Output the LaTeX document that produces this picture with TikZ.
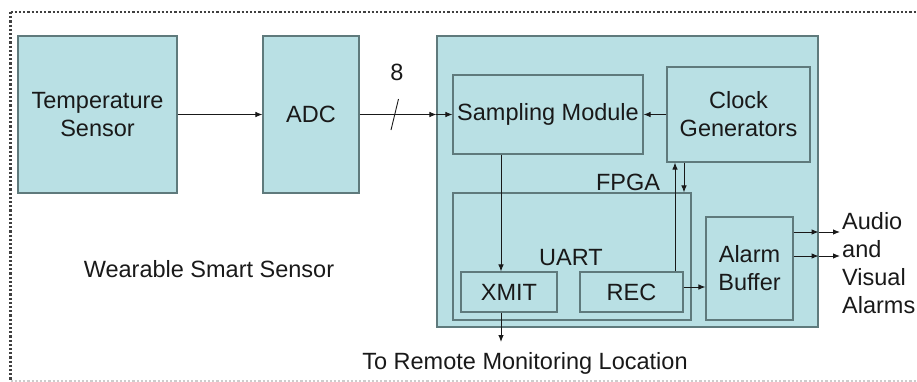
\documentclass[tikz,border=0pt]{standalone}
\usepackage{fontspec}
\setmainfont{Liberation Sans}
\usetikzlibrary{arrows.meta}
\definecolor{boxfill}{RGB}{185,224,228}
\definecolor{boxline}{RGB}{95,122,124}
\definecolor{txt}{RGB}{25,25,25}
\begin{document}
\begin{tikzpicture}[x=1pt,y=-1pt,
  box/.style={draw=boxline,fill=boxfill,line width=1.1pt,inner sep=0pt,align=center,text=txt,
    font=\fontsize{23.5}{28}\selectfont},
  lbl/.style={text=txt,font=\fontsize{23.5}{28}\selectfont,inner sep=0pt,align=center},
  conn/.style={line width=0.9pt,draw=txt,-{Latex[length=7pt,width=5.5pt]}},
  plain/.style={line width=0.9pt,draw=txt}]
\useasboundingbox (0,0) rectangle (917,381);
% dotted frame
\draw[dotted,line width=2.2pt,draw=black!75] (10.5,12) -- (940,12);
\draw[dotted,line width=2.2pt,draw=black!75] (10.5,12) -- (10.5,381);
\draw[dotted,line width=2.2pt,draw=black!20] (10.5,381) -- (940,381);
% boxes
\node[box,minimum width=159,minimum height=157] (temp) at (97.5,114.5) {Temperature\\Sensor};
\node[box,minimum width=96,minimum height=157] (adc) at (311,114.5) {ADC};
\node[box,minimum width=381,minimum height=291] (fpga) at (627.5,181.5) {};
\node[box,minimum width=190,minimum height=79] (samp) at (548,114.5) {Sampling Module};
\node[box,minimum width=143,minimum height=95] (clock) at (738.5,114.5) {Clock\\Generators};
\node[box,minimum width=238,minimum height=127] (uart) at (572,256.5) {};
\node[box,minimum width=96,minimum height=40] (xmit) at (509,292) {XMIT};
\node[box,minimum width=103,minimum height=40] (rec) at (631.5,292) {REC};
\node[box,minimum width=87,minimum height=103] (alarm) at (749.5,268.5) {Alarm\\Buffer};
% labels
\node[lbl] (eight) at (397,72) {8};
\node[lbl] (fpgalbl) at (628,182) {FPGA};
\node[lbl] (uartlbl) at (571,258) {UART};
\node[lbl] (wss) at (209,269) {Wearable Smart Sensor};
\node[lbl] (remote) at (525,363) {To Remote Monitoring Location};
\node[lbl,anchor=west,align=left] (alarms) at (842,263.5) {Audio\\and\\Visual\\Alarms};
% connectors
\draw[conn] (temp.east) -- (adc.west);
\coordinate (fin) at (adc.east -| fpga.west);
\draw[conn] (adc.east) -- (fin);
\draw[conn] (fin) -- (samp.west);
\draw[plain] (391,130) -- (398.5,99);
\draw[conn] (clock.west) -- (samp.east);
\draw[conn] (samp.south -| 501,0) -- (xmit.north -| 501,0);
\draw[conn] (rec.north -| 675,0) -- (clock.south -| 675,0);
\draw[conn] (clock.south -| 684,0) -- (uart.north -| 684,0);
\draw[conn] (rec.east |- 0,287) -- (alarm.west |- 0,287);
\coordinate (o1) at (alarm.east |- 0,232);
\coordinate (o1b) at (fpga.east |- 0,232);
\coordinate (o1c) at (840,232);
\draw[conn] (o1) -- (o1b);
\draw[conn] (o1b) -- (o1c);
\coordinate (o2) at (alarm.east |- 0,256);
\coordinate (o2b) at (fpga.east |- 0,256);
\coordinate (o2c) at (840,256);
\draw[conn] (o2) -- (o2b);
\draw[conn] (o2b) -- (o2c);
\coordinate (rm) at (501,342);
\draw[conn] (xmit.south -| 501,0) -- (rm);
\end{tikzpicture}
\end{document}
